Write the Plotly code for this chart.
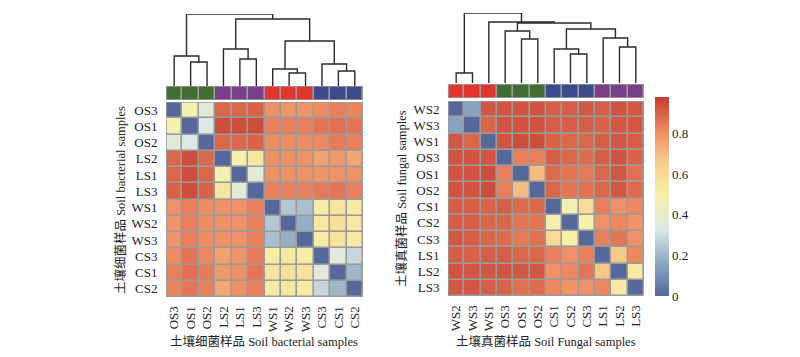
import plotly.graph_objects as go

# page body has an 8px margin; keep the figure inside the 800x357 window
OFF = 8
W, H = 800 - OFF, 357 - OFF

# ---------------- data ----------------
bac_labels = ["OS3", "OS1", "OS2", "LS2", "LS1", "LS3", "WS1", "WS2", "WS3", "CS3", "CS1", "CS2"]
bac_values = [
    [0.00, 0.48, 0.36, 0.89, 0.89, 0.90, 0.80, 0.79, 0.79, 0.81, 0.84, 0.83],
    [0.48, 0.00, 0.33, 0.94, 0.94, 0.94, 0.84, 0.84, 0.84, 0.86, 0.87, 0.86],
    [0.36, 0.33, 0.00, 0.89, 0.89, 0.90, 0.81, 0.81, 0.81, 0.82, 0.85, 0.84],
    [0.89, 0.94, 0.89, 0.00, 0.48, 0.55, 0.80, 0.80, 0.80, 0.76, 0.78, 0.75],
    [0.89, 0.94, 0.89, 0.48, 0.00, 0.37, 0.80, 0.80, 0.80, 0.79, 0.80, 0.80],
    [0.90, 0.94, 0.90, 0.55, 0.37, 0.00, 0.84, 0.84, 0.84, 0.85, 0.86, 0.84],
    [0.80, 0.84, 0.81, 0.80, 0.80, 0.84, 0.00, 0.24, 0.22, 0.50, 0.55, 0.52],
    [0.79, 0.84, 0.81, 0.80, 0.80, 0.84, 0.24, 0.00, 0.18, 0.53, 0.57, 0.53],
    [0.79, 0.84, 0.81, 0.80, 0.80, 0.84, 0.22, 0.18, 0.00, 0.51, 0.56, 0.52],
    [0.81, 0.86, 0.82, 0.76, 0.79, 0.85, 0.50, 0.53, 0.51, 0.00, 0.36, 0.28],
    [0.84, 0.87, 0.85, 0.78, 0.80, 0.86, 0.55, 0.57, 0.56, 0.36, 0.00, 0.20],
    [0.83, 0.86, 0.84, 0.75, 0.80, 0.84, 0.52, 0.53, 0.52, 0.28, 0.20, 0.00],
]
bac_merges = [  # (child a, child b, merge height)
    ("OS1", "OS2", 24), ("OS3", "m0", 30),
    ("LS1", "LS3", 27), ("LS2", "m2", 37),
    ("WS2", "WS3", 13), ("WS1", "m4", 17),
    ("CS1", "CS2", 15), ("CS3", "m6", 22),
    ("m5", "m7", 45), ("m3", "m8", 67), ("m1", "m9", 72),
]

fun_labels = ["WS2", "WS3", "WS1", "OS3", "OS1", "OS2", "CS1", "CS2", "CS3", "LS1", "LS2", "LS3"]
fun_values = [
    [0.00, 0.15, 0.92, 0.93, 0.93, 0.93, 0.91, 0.91, 0.92, 0.91, 0.93, 0.92],
    [0.15, 0.00, 0.89, 0.93, 0.93, 0.93, 0.91, 0.91, 0.91, 0.90, 0.92, 0.92],
    [0.92, 0.89, 0.00, 0.93, 0.94, 0.94, 0.90, 0.89, 0.89, 0.91, 0.92, 0.91],
    [0.93, 0.93, 0.93, 0.00, 0.84, 0.84, 0.91, 0.89, 0.88, 0.91, 0.93, 0.90],
    [0.93, 0.93, 0.94, 0.84, 0.00, 0.70, 0.88, 0.86, 0.85, 0.89, 0.92, 0.87],
    [0.93, 0.93, 0.94, 0.84, 0.70, 0.00, 0.89, 0.86, 0.87, 0.89, 0.92, 0.88],
    [0.91, 0.91, 0.90, 0.91, 0.88, 0.89, 0.00, 0.47, 0.60, 0.84, 0.80, 0.82],
    [0.91, 0.91, 0.89, 0.89, 0.86, 0.86, 0.47, 0.00, 0.49, 0.80, 0.82, 0.79],
    [0.92, 0.91, 0.89, 0.88, 0.85, 0.87, 0.60, 0.49, 0.00, 0.84, 0.86, 0.80],
    [0.91, 0.90, 0.91, 0.91, 0.89, 0.89, 0.84, 0.80, 0.84, 0.00, 0.67, 0.82],
    [0.93, 0.92, 0.92, 0.93, 0.92, 0.92, 0.80, 0.82, 0.86, 0.67, 0.00, 0.52],
    [0.92, 0.92, 0.91, 0.90, 0.87, 0.88, 0.82, 0.79, 0.80, 0.82, 0.52, 0.00],
]
fun_merges = [
    ("WS2", "WS3", 10),
    ("OS1", "OS2", 44), ("OS3", "m1", 52),
    ("CS2", "CS3", 29), ("CS1", "m3", 34),
    ("LS2", "LS3", 36), ("LS1", "m5", 45),
    ("m4", "m6", 54), ("m2", "m7", 60), ("WS1", "m8", 61), ("m0", "m9", 70),
]

group_names = ["WS", "OS", "CS", "LS"]
group_colors = ["#e2352d", "#3f6f33", "#3d4a8d", "#7a3f8b"]

colorbar_ticks = [0, 0.2, 0.4, 0.6, 0.8]

bac_xtitle = "土壤细菌样品 Soil bacterial samples"
bac_ytitle = "土壤细菌样品 Soil bacterial samples"
fun_xtitle = "土壤真菌样品 Soil Fungal samples"
fun_ytitle = "土壤真菌样品 Soil fungal samples"

# ---------------- styles ----------------
colorscale = [
    [0.0, "#56679b"], [1 / 6, "#8fa7c3"], [2 / 6, "#dce9e7"], [3 / 6, "#f6f0a9"],
    [4 / 6, "#f7d08e"], [5 / 6, "#ee8a61"], [1.0, "#c43b31"],
]
ZMAX = 0.98
GRID = "#9b9b9b"
FONT = "Liberation Serif, Times New Roman, Noto Sans CJK SC, serif"
TFONT = "Liberation Serif, Noto Sans CJK SC, serif"


def fx(px):
    return (px - OFF) / W


def fy(py):
    return 1 - (py - OFF) / H


def dendro_xy(labels, merges):
    pos = {lab: (i, 0.0) for i, lab in enumerate(labels)}
    xs, ys = [], []
    for k, (a, b, h) in enumerate(merges):
        xa, ha = pos[a]
        xb, hb = pos[b]
        xs += [xa, xa, xb, xb, None]
        ys += [ha, h, h, hb, None]
        pos["m%d" % k] = ((xa + xb) / 2, h)
    return xs, ys


fig = go.Figure()

panels = [
    # labels, values, merges, heat x px, heat y px, bar y px, dendro y px, showscale, axis suffix base
    (bac_labels, bac_values, bac_merges, (166, 363), (102, 297), (86, 100), (14, 86), False, 1),
    (fun_labels, fun_values, fun_merges, (448, 644), (101, 296), (84, 98), (13, 83), True, 4),
]

CB_TOP, CB_BOT = 97, 296

shapes = []
for (labels, values, merges, hx, hy, by, dy, showscale, base) in panels:
    n = len(labels)
    suf = ["" if base + i == 1 else str(base + i) for i in range(3)]
    xa1, xa2, xa3 = suf
    # heatmap
    fig.add_trace(go.Heatmap(
        z=values, x=list(range(n)), y=list(range(n)),
        colorscale=colorscale, zmin=0, zmax=ZMAX, xgap=1.6, ygap=1.6,
        showscale=showscale, xaxis="x" + xa1, yaxis="y" + xa1,
        colorbar=dict(
            x=fx(655), xanchor="left", xpad=0, ypad=0,
            y=fy((CB_TOP + CB_BOT) / 2), yanchor="middle", len=(CB_BOT - CB_TOP) / H,
            lenmode="fraction",
            thickness=14, outlinewidth=0, tickvals=colorbar_ticks,
            ticktext=[("%g" % t) for t in colorbar_ticks], ticks="",
            tickfont=dict(family=FONT, size=13, color="#222"),
        ),
        hoverinfo="skip",
    ))
    # group bar
    gidx = [group_names.index(lab[:2]) for lab in labels]
    gscale = []
    for i, c in enumerate(group_colors):
        gscale += [[i / 4, c], [(i + 1) / 4, c]]
    fig.add_trace(go.Heatmap(
        z=[[g + 0.5 for g in gidx]], x=list(range(n)), y=[0],
        colorscale=gscale, zmin=0, zmax=4, xgap=1.6, showscale=False,
        xaxis="x" + xa2, yaxis="y" + xa2, hoverinfo="skip",
    ))
    # dendrogram
    dx, dy_ = dendro_xy(labels, merges)
    fig.add_trace(go.Scatter(
        x=dx, y=dy_, mode="lines", line=dict(color="#2a2a2a", width=1.4),
        xaxis="x" + xa3, yaxis="y" + xa3, hoverinfo="skip", showlegend=False,
    ))
    hmax = max(m[2] for m in merges)
    common = dict(showgrid=False, zeroline=False)
    fig.update_layout(**{
        "xaxis" + xa1: dict(domain=[fx(hx[0]), fx(hx[1])], range=[-0.5, n - 0.5],
                            tickvals=list(range(n)), ticktext=labels, tickangle=-90,
                            ticks="outside", ticklen=3, tickcolor="rgba(0,0,0,0)",
                            tickfont=dict(family=FONT, size=13, color="#222"),
                            anchor="y" + xa1, **common),
        "yaxis" + xa1: dict(domain=[fy(hy[1]), fy(hy[0])], range=[n - 0.5, -0.5],
                            tickvals=list(range(n)), ticktext=labels,
                            ticks="outside", ticklen=5, tickcolor="rgba(0,0,0,0)",
                            tickfont=dict(family=FONT, size=13, color="#222"),
                            anchor="x" + xa1, **common),
        "xaxis" + xa2: dict(domain=[fx(hx[0]), fx(hx[1])], range=[-0.5, n - 0.5],
                            showticklabels=False, anchor="y" + xa2, **common),
        "yaxis" + xa2: dict(domain=[fy(by[1]), fy(by[0])], range=[-0.5, 0.5],
                            showticklabels=False, anchor="x" + xa2, **common),
        "xaxis" + xa3: dict(domain=[fx(hx[0]), fx(hx[1])], range=[-0.5, n - 0.5],
                            showticklabels=False, anchor="y" + xa3, **common),
        "yaxis" + xa3: dict(domain=[fy(dy[1]), fy(dy[0])], range=[0, hmax],
                            showticklabels=False, anchor="x" + xa3, **common),
    })
    # grey background (cell borders) and outer frame
    for xr, yr, y0, y1 in [("x" + xa1, "y" + xa1, -0.5, n - 0.5), ("x" + xa2, "y" + xa2, -0.5, 0.5)]:
        shapes.append(dict(type="rect", xref=xr, yref=yr, x0=-0.5, x1=n - 0.5, y0=y0, y1=y1,
                           fillcolor=GRID, line=dict(width=0), layer="below"))
        shapes.append(dict(type="rect", xref=xr, yref=yr, x0=-0.5, x1=n - 0.5, y0=y0, y1=y1,
                           fillcolor="rgba(0,0,0,0)", line=dict(color=GRID, width=1.6), layer="above"))

annotations = [
    dict(text=bac_xtitle, x=fx(264), y=fy(341), xref="paper", yref="paper", showarrow=False,
         font=dict(family=TFONT, size=12.5, color="#222"), xanchor="center", yanchor="middle"),
    dict(text=bac_ytitle, x=fx(120), y=fy(200), xref="paper", yref="paper", showarrow=False,
         textangle=-90, font=dict(family=TFONT, size=12.5, color="#222"), xanchor="center", yanchor="middle"),
    dict(text=fun_xtitle, x=fx(546), y=fy(341), xref="paper", yref="paper", showarrow=False,
         font=dict(family=TFONT, size=12.5, color="#222"), xanchor="center", yanchor="middle"),
    dict(text=fun_ytitle, x=fx(401), y=fy(199), xref="paper", yref="paper", showarrow=False,
         textangle=-90, font=dict(family=TFONT, size=12.5, color="#222"), xanchor="center", yanchor="middle"),
]

fig.update_layout(
    width=W, height=H, margin=dict(l=0, r=0, t=0, b=0),
    paper_bgcolor="white", plot_bgcolor="white", showlegend=False,
    shapes=shapes, annotations=annotations,
)

fig.write_html("out.html")
